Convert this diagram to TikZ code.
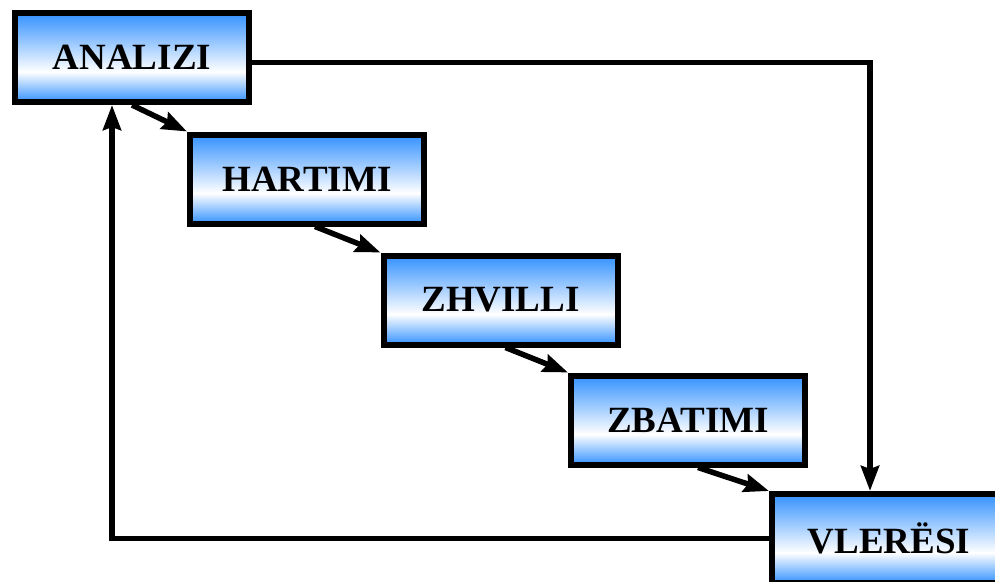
\documentclass[tikz,border=0pt]{standalone}
\usepackage{fontspec}
\setmainfont{Liberation Serif}
\usetikzlibrary{arrows.meta, positioning}
\usetikzlibrary{calc}
\definecolor{phaseblue}{RGB}{51,145,255}
% blue at the top and bottom, white a little below the middle
\pgfdeclareverticalshading{phasefill}{100bp}{color(0bp)=(phaseblue); color(25bp)=(phaseblue);
  color(42bp)=(white); color(75bp)=(phaseblue); color(100bp)=(phaseblue)}
\tikzset{
x=1pt, y=-1pt, % pixel-like units, y grows downwards
flow/.style={-{Stealth[length=25pt,width=18pt,inset=3pt]}, line width=5.5pt}, % the connectors
phase/.style={draw, line width=6pt, minimum width=234pt, minimum height=89pt,
  shading=phasefill, font=\fontsize{37}{40}\selectfont\bfseries}, % sets the properties for each phase box
}
\begin{document}
\begin{tikzpicture}
    \useasboundingbox (0,0) rectangle (995,581);
    \node[phase] (analizi) at (132,57.5) {ANALIZI};
    \node[phase] (hartimi) at (307,179) {HARTIMI};
    \node[phase] (zhvilli) at (500.5,300) {ZHVILLI};
    \node[phase] (zbatimi) at (688,420) {ZBATIMI};
    \node[phase] (vleresi) at (889,538.5) {VLERËSI};
    \draw[flow] (analizi.south) -- (hartimi.north west);
    \draw[flow] ([xshift=8pt]hartimi.south) -- (zhvilli.north west);
    \draw[flow] ([xshift=5pt]zhvilli.south) -- (zbatimi.north west);
    \draw[flow] ([xshift=10pt]zbatimi.south) -- (vleresi.north west);
    \draw[flow] ([yshift=-5pt]analizi.east) -| ([xshift=-19pt]vleresi.north);
    \draw[flow] (vleresi.west) -| ([xshift=-20pt]analizi.south);
  \end{tikzpicture}
\end{document}
